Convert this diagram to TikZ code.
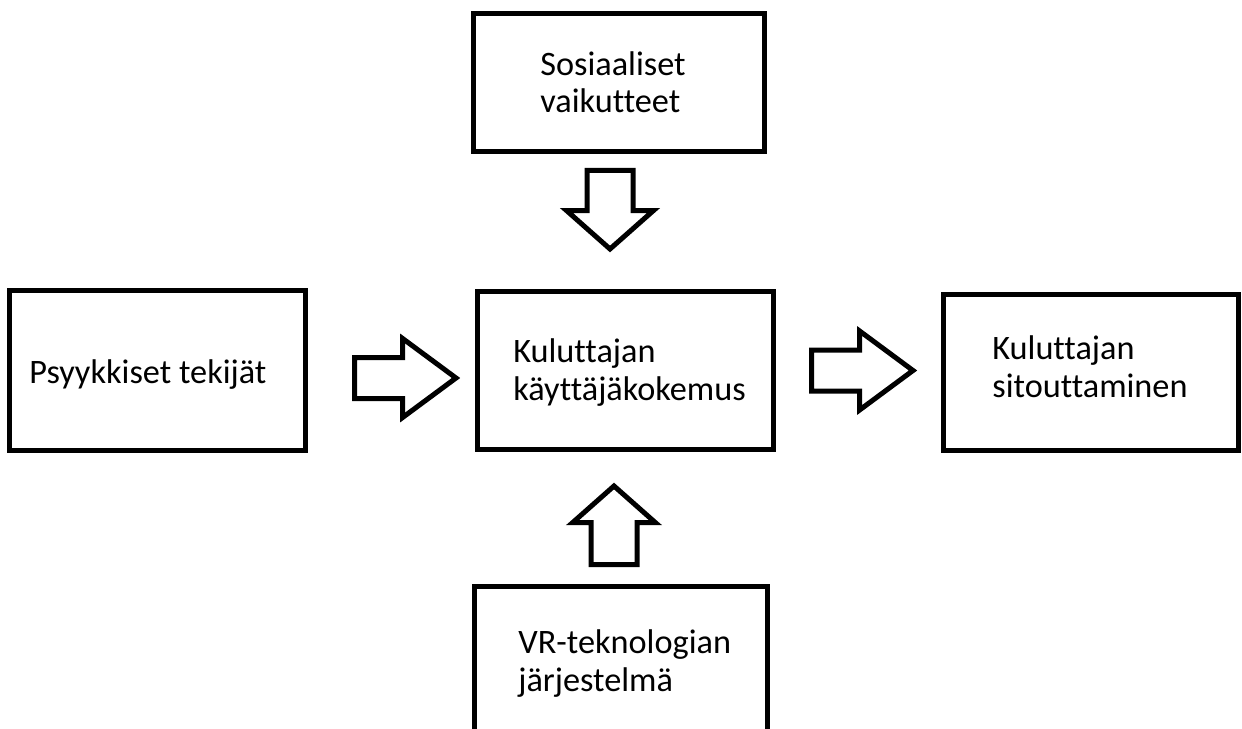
\documentclass[tikz,border=0pt]{standalone}
\usepackage{fontspec}
\setmainfont{Carlito}[Ligatures=NoCommon]
\usetikzlibrary{shapes.arrows}

\begin{document}
\begin{tikzpicture}

  % ── Estilos ───────────────────────────────────────────────
  \tikzset{
    caixa/.style = {draw, line width=0.1cm, minimum width=5.9cm, minimum height=3.16cm},
    texto/.style = {anchor=base west, align=left, inner sep=0pt,
                    font=\fontsize{19.5pt}{21.6pt}\selectfont},
    seta/.style  = {single arrow, draw, line width=0.1cm, inner sep=0.36cm, anchor=tail,
                    minimum height=2.03cm, minimum width=1.48cm,
                    single arrow head extend=0.38cm, single arrow tip angle=73},
    setav/.style = {seta, inner sep=0.41cm, minimum height=1.57cm, minimum width=1.64cm,
                    single arrow head extend=0.41cm, single arrow tip angle=97}
  }

  % Area total da figura (a caixa de baixo sai do quadro)
  \useasboundingbox (0,0) rectangle (24.84,-14.58);

  % =========================================================
  % 1. CAIXAS
  % =========================================================
  \node[caixa, minimum width=5.82cm, minimum height=2.76cm] (sos) at (12.38,-1.65) {};
  \node[caixa, minimum width=5.92cm, minimum height=3.2cm] (psy) at (3.15,-7.41) {};
  \node[caixa, minimum width=5.92cm] (kok) at (12.51,-7.41) {};
  \node[caixa, minimum height=3.12cm] (sit) at (21.82,-7.45) {};
  \node[caixa, minimum width=5.86cm, minimum height=3.2cm] (vr) at (12.42,-13.33) {};

  % Textos (alinhados a esquerda, como no original)
  \node[texto] (t-sos) at (10.8,-2.26) {Sosiaaliset\\vaikutteet};
  \node[texto] (t-psy) at (0.58,-7.66) {Psyykkiset tekijät};
  \node[texto] (t-kok) at (10.26,-8.0) {Kuluttajan\\käyttäjäkokemus};
  \node[texto] (t-sit) at (19.84,-7.94) {Kuluttajan\\sitouttaminen};
  \node[texto] (t-vr) at (10.36,-13.82) {VR-teknologian\\järjestelmä};

  % =========================================================
  % 2. SETAS
  % =========================================================
  \node[setav, shape border rotate=270] (s-sos) at ([xshift=-0.18cm, yshift=-0.28cm]sos.south) {};
  \node[seta] (s-psy) at ([xshift=0.88cm, yshift=-0.15cm]psy.east) {};
  \node[seta] (s-kok) at ([xshift=0.66cm]kok.east) {};
  \node[setav, shape border rotate=90, minimum width=1.56cm, single arrow head extend=0.37cm] (s-vr) at ([xshift=-0.14cm, yshift=0.34cm]vr.north) {};

\end{tikzpicture}
\end{document}
